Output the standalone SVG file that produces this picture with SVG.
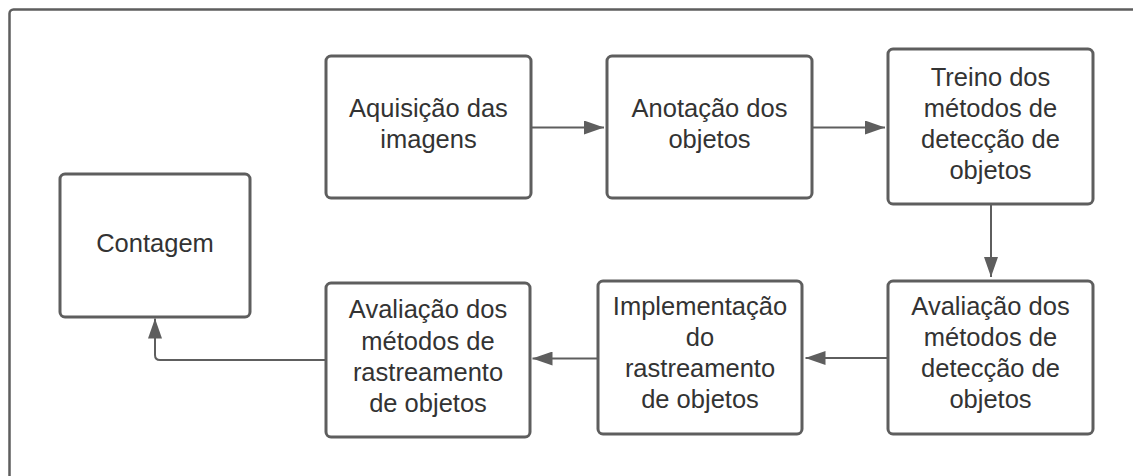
<svg xmlns="http://www.w3.org/2000/svg" width="1133" height="476" viewBox="0 0 1133 476">
<style>
.frame{fill:#ffffff;stroke:#5e5e5e;stroke-width:2.5}
.box{fill:#ffffff;stroke:#5e5e5e;stroke-width:3}
.lbl{font-family:"Liberation Sans",Arial,sans-serif;font-size:25.5px;fill:#333333;text-anchor:middle}
.con{fill:none;stroke:#5e5e5e;stroke-width:2}
</style>
<defs>
<marker id="arr" markerUnits="userSpaceOnUse" markerWidth="20" markerHeight="14" refX="20" refY="7" orient="auto">
<path d="M0,0 L20,7 L0,14 Z" fill="#5e5e5e"/>
</marker>
</defs>
<rect width="1133" height="476" fill="#ffffff"/>
<rect class="frame" x="9.5" y="9.5" width="1140" height="490" rx="4"/>

<g id="n-aquisicao">
<rect class="box" x="326" y="56" width="205" height="142" rx="5"/>
<text class="lbl" x="428.5" y="116.5">Aquisição das</text>
<text class="lbl" x="428.5" y="147.5">imagens</text>
</g>
<g id="n-anotacao">
<rect class="box" x="607" y="56" width="205" height="142" rx="5"/>
<text class="lbl" x="709.5" y="116.5">Anotação dos</text>
<text class="lbl" x="709.5" y="147.5">objetos</text>
</g>
<g id="n-treino">
<rect class="box" x="888" y="49" width="205" height="155" rx="5"/>
<text class="lbl" x="990.5" y="85.5">Treino dos</text>
<text class="lbl" x="990.5" y="116.5">métodos de</text>
<text class="lbl" x="990.5" y="147.5">detecção de</text>
<text class="lbl" x="990.5" y="178.5">objetos</text>
</g>
<g id="n-contagem">
<rect class="box" x="60" y="174" width="190" height="143" rx="5"/>
<text class="lbl" x="155" y="252">Contagem</text>
</g>
<g id="n-aval-deteccao">
<rect class="box" x="888" y="281" width="205" height="153" rx="5"/>
<text class="lbl" x="990.5" y="314.5">Avaliação dos</text>
<text class="lbl" x="990.5" y="345.5">métodos de</text>
<text class="lbl" x="990.5" y="376.5">detecção de</text>
<text class="lbl" x="990.5" y="407.5">objetos</text>
</g>
<g id="n-implementacao">
<rect class="box" x="598" y="281" width="204" height="153" rx="5"/>
<text class="lbl" x="700" y="315">Implementação</text>
<text class="lbl" x="700" y="346">do</text>
<text class="lbl" x="700" y="377">rastreamento</text>
<text class="lbl" x="700" y="408">de objetos</text>
</g>
<g id="n-aval-rastreamento">
<rect class="box" x="326" y="283" width="204" height="154" rx="5"/>
<text class="lbl" x="428" y="318">Avaliação dos</text>
<text class="lbl" x="428" y="349.5">métodos de</text>
<text class="lbl" x="428" y="381">rastreamento</text>
<text class="lbl" x="428" y="412">de objetos</text>
</g>

<g id="connectors">
<path class="con" d="M531,127.5 L604,127.5" marker-end="url(#arr)"/>
<path class="con" d="M812,127.5 L885,127.5" marker-end="url(#arr)"/>
<path class="con" d="M991,204 L991,277" marker-end="url(#arr)"/>
<path class="con" d="M888,358 L805.5,358" marker-end="url(#arr)"/>
<path class="con" d="M598,358.5 L532.5,358.5" marker-end="url(#arr)"/>
<path class="con" d="M326,360 L160,360 Q155,360 155,355 L155,318.5" marker-end="url(#arr)"/>
</g>
</svg>
